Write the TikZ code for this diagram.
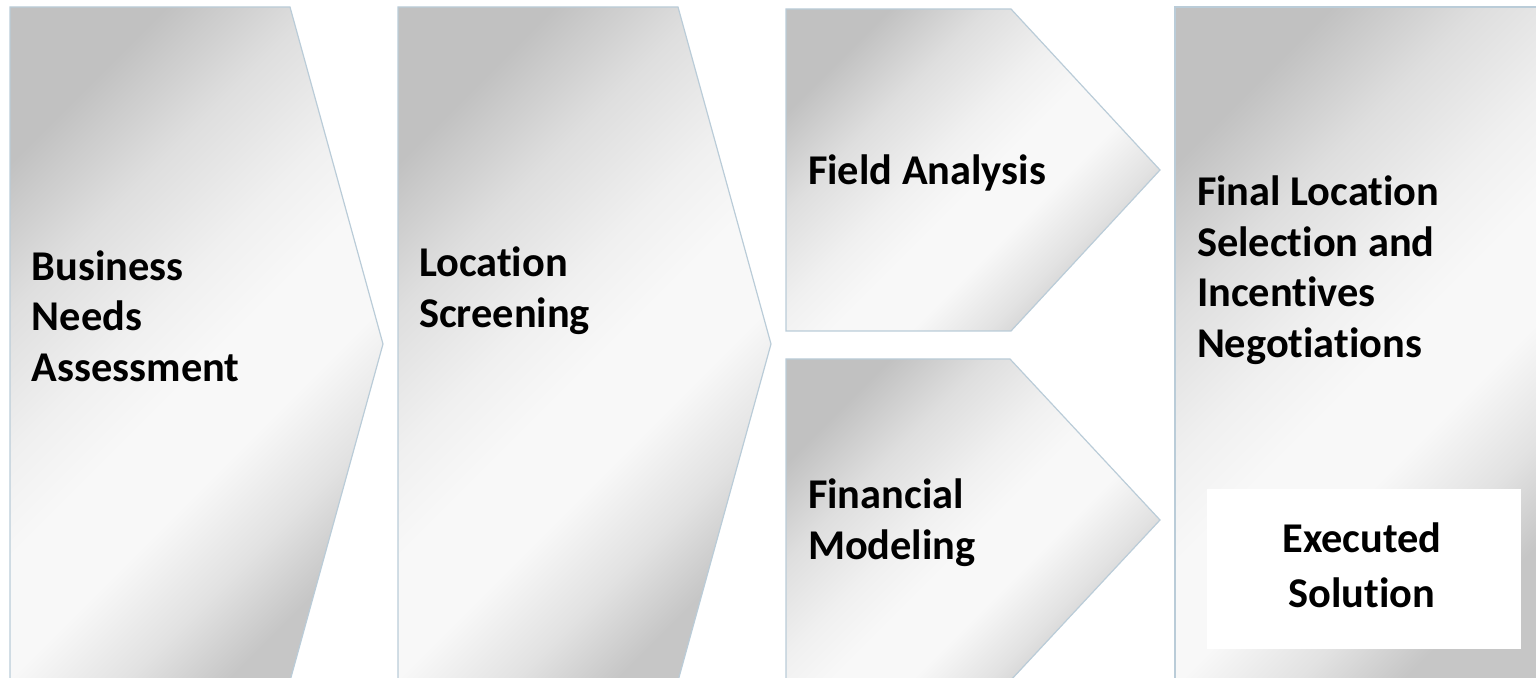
\documentclass[tikz,border=0pt]{standalone}
\usepackage{fontspec}
\setmainfont{Carlito}[Ligatures=NoCommon]
\definecolor{shdark}{RGB}{193,193,193}
\definecolor{shmidA}{RGB}{222,222,222}
\definecolor{shmidB}{RGB}{240,240,240}
\definecolor{shlight}{RGB}{248,248,248}
\definecolor{shmidC}{RGB}{226,226,226}
\definecolor{shend}{RGB}{198,198,198}
\definecolor{edgeblue}{RGB}{186,204,216}
% diagonal grey-white-grey fill of the stage shapes
\pgfdeclarehorizontalshading{stageshade}{100bp}{
  color(0bp)=(shdark); color(25bp)=(shdark); color(35bp)=(shmidA);
  color(45bp)=(shmidB); color(52bp)=(shlight); color(60bp)=(shlight);
  color(68bp)=(shmidC); color(75bp)=(shend); color(100bp)=(shend)}
\begin{document}
\begin{tikzpicture}[x=0.5pt,y=-0.5pt,
  stagebox/.style={draw=edgeblue,line width=0.6pt,shading=stageshade,shading angle=-45},
  label/.style={inner sep=0pt,outer sep=0pt,align=left,anchor=base west,
    font=\bfseries\fontsize{21.2}{25.5}\selectfont},
  clabel/.style={label,align=center,anchor=base}]
\useasboundingbox (0,0) rectangle (1536,678);
\clip (0,0) rectangle (1536,678);

% chevrons of the process
\path[stagebox] (10,7) -- (290,7) -- (383,344) -- (290,681) -- (10,681) -- cycle;
\path[stagebox] (398,7) -- (678,7) -- (771,344) -- (678,681) -- (398,681) -- cycle;
\path[stagebox] (786,9) -- (1011,9) -- (1160,170) -- (1011,331) -- (786,331) -- cycle;
\path[stagebox] (786,359) -- (1010,359) -- (1160,520) -- (1010,681) -- (786,681) -- cycle;
\path[stagebox] (1175,7) rectangle (1548,692);

% white result panel
\fill[white] (1207,489) rectangle (1521,649);

% stage captions (anchored on the baseline of the last line)
\node[label] (bna) at (32,382) {Business\\Needs\\Assessment};
\node[label] (ls) at (419,328) {Location\\Screening};
\node[label] (fa) at (808,185) {Field Analysis};
\node[label] (fm) at (808,559) {Financial\\Modeling};
\node[label] (fl) at (1197,358) {Final Location\\Selection and\\Incentives\\Negotiations};
\node[clabel] (es) at (1362,607) {Executed\\[2pt] Solution};
\end{tikzpicture}
\end{document}
